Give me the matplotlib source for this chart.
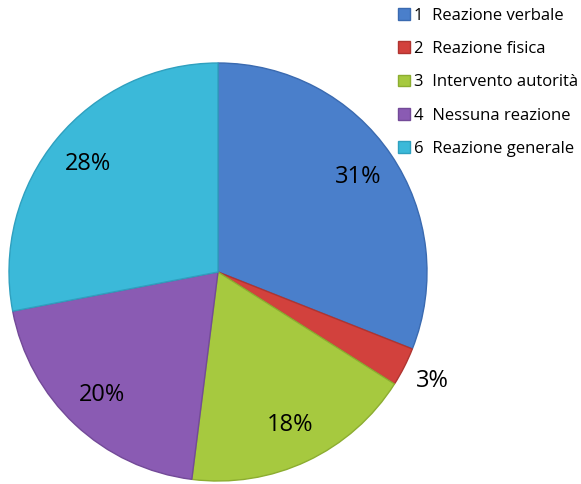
import numpy as np
import matplotlib.pyplot as plt
from matplotlib.patches import Patch

plt.rcParams['font.family'] = ['Open Sans', 'DejaVu Sans']

labels = ["1  Reazione verbale", "2  Reazione fisica", "3  Intervento autorità",
          "4  Nessuna reazione", "6  Reazione generale"]
values = [31, 3, 18, 20, 28]
colors = ["#4a7fcb", "#d2413d", "#a6c93f", "#8a5bb3", "#3bb9d9"]
edges = ["#3a6ab0", "#b03430", "#8cad30", "#734a98", "#2fa0bf"]

fig = plt.figure(figsize=(5.81, 4.84), dpi=100)
# pie centred near (218, 272) px with radius ~209 px
cx, cy, r = 218, 272, 209
ax = fig.add_axes([(cx - r) / 581, (484 - cy - r) / 484, 2 * r / 581, 2 * r / 484])

wedges, texts, autotexts = ax.pie(
    values, colors=colors, startangle=90, counterclock=False,
    autopct="%d%%", pctdistance=0.81,
    wedgeprops=dict(linewidth=1.0),
    textprops=dict(fontsize=17, color="black"))
for w, ec in zip(wedges, edges):
    w.set_edgecolor(ec)

# the small slice gets its label outside
w = wedges[1]
ang = np.deg2rad((w.theta1 + w.theta2) / 2)
autotexts[1].set_position((1.15 * np.cos(ang), 1.15 * np.sin(ang)))
ax.set_aspect("equal")
ax.set_xlim(-1, 1)
ax.set_ylim(-1, 1)

handles = [Patch(facecolor=c, edgecolor=e, label=l) for c, e, l in zip(colors, edges, labels)]
fig.legend(handles=handles, loc="upper left", bbox_to_anchor=(398 / 581, 1 - 8 / 484),
           frameon=False, fontsize=12, handlelength=0.7, handleheight=0.7,
           handletextpad=0.25, labelspacing=1.03, borderaxespad=0, borderpad=0)

fig.savefig("out.png", dpi=100)
